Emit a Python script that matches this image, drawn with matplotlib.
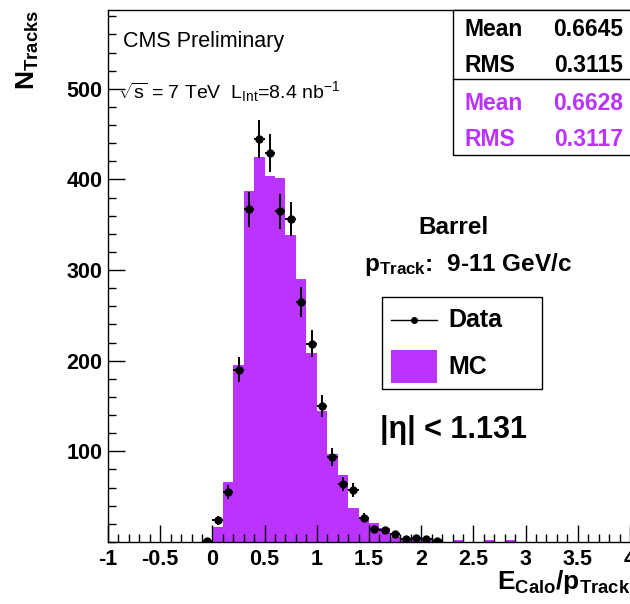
import matplotlib
matplotlib.use('Agg')
import matplotlib.pyplot as plt
import matplotlib.ticker as ticker
from matplotlib.patches import Rectangle
from matplotlib.lines import Line2D
import numpy as np

# MC histogram (bins of 0.1 from 0 to 2.9)
mc_edges = np.linspace(0.0, 2.9, 30)
mc_counts = [17, 66, 195, 387, 425, 404, 402, 339, 290, 208,
             145, 97, 74, 38, 28, 21, 15, 6, 4, 3,
             3, 3, 0, 2, 0, 0, 2, 0, 2]

# data points (bin centres and counts)
data_x = [-0.05, 0.05, 0.15, 0.25, 0.35, 0.45, 0.55, 0.65, 0.75, 0.85,
          0.95, 1.05, 1.15, 1.25, 1.35, 1.45, 1.55, 1.65, 1.75, 1.85,
          1.95, 2.05, 2.15]
data_counts = [1, 24, 55, 190, 367, 445, 429, 365, 356, 265,
               219, 150, 94, 64, 57, 27, 14, 13, 9, 3,
               4, 3, 1]

stat_labels = ['Mean', 'RMS', 'Mean', 'RMS']
stat_values = ['0.6645', '0.3115', '0.6628', '0.3117']

purple = '#bb33ff'
W, H = 630, 604

plt.rcParams['font.family'] = 'Liberation Sans'
plt.rcParams['mathtext.fontset'] = 'custom'
plt.rcParams['mathtext.rm'] = 'Liberation Sans'
plt.rcParams['mathtext.it'] = 'Liberation Sans:italic'
plt.rcParams['mathtext.bf'] = 'Liberation Sans:bold'


def fx(px):
    return px / W


def fy(py):
    return 1 - py / H


fig = plt.figure(figsize=(W / 100, H / 100), dpi=100)
ax = fig.add_axes([fx(108), fy(542), fx(630) - fx(108), fy(10) - fy(542)])

ax.stairs(mc_counts, mc_edges, fill=True, color=purple, zorder=1)
ax.errorbar(data_x, data_counts, xerr=0.05, yerr=np.sqrt(data_counts),
            fmt='o', color='black', ms=5, elinewidth=1.4, capsize=0, zorder=3)

ax.set_xlim(-1, 4)
ax.set_ylim(0, 587)
ax.spines['right'].set_visible(False)
for s in ax.spines.values():
    s.set_linewidth(1)

ax.xaxis.set_major_locator(ticker.MultipleLocator(0.5))
ax.xaxis.set_minor_locator(ticker.MultipleLocator(0.1))
ax.xaxis.set_major_formatter(ticker.FuncFormatter(lambda v, p: '%g' % v))
ax.set_yticks(range(100, 600, 100))
ax.yaxis.set_minor_locator(ticker.MultipleLocator(20))
ax.tick_params(which='both', direction='in', width=1, top=False, right=False)
ax.tick_params(which='major', length=12)
ax.tick_params(which='minor', length=5.5)
ax.tick_params(axis='x', pad=5)
ax.tick_params(axis='y', pad=4)
for lab in ax.get_xticklabels() + ax.get_yticklabels():
    lab.set_fontsize(15.5)
    lab.set_fontweight('bold')

# axis titles
fig.text(fx(28), fy(10), r'$\mathbf{N_{Tracks}}$', rotation=90,
         ha='center', va='top', fontsize=19)
fig.text(fx(630), fy(589), r'$\mathbf{E_{Calo}/p_{Track}}$',
         ha='right', va='baseline', fontsize=19)

# annotations
fig.text(fx(123), fy(42), 'CMS Preliminary', fontsize=15.5, va='center')
fig.text(fx(118), fy(92), r'$\sqrt{\mathrm{s}}$ = 7 TeV  L$_{\rm Int}$=8.4 nb$^{-1}$',
         fontsize=14, va='center')
fig.text(fx(453), fy(228), 'Barrel', fontsize=17.5, fontweight='bold',
         ha='center', va='center')
fig.text(fx(364), fy(264), r'$\mathbf{p_{Track}}$:  9-11 GeV/c', fontsize=17.5,
         fontweight='bold', va='center')
fig.text(fx(380), fy(430), '|η| < 1.131', fontsize=22, fontweight='bold',
         va='center')

# legend
fig.patches.append(Rectangle((fx(382), fy(389)), fx(542) - fx(382), fy(297) - fy(389),
                             transform=fig.transFigure, facecolor='white',
                             edgecolor='black', lw=1, zorder=5))
fig.lines.append(Line2D([fx(391), fx(437)], [fy(320), fy(320)], color='black', lw=1,
                        transform=fig.transFigure, zorder=6))
fig.lines.append(Line2D([fx(414)], [fy(320)], color='black', marker='o', ms=4,
                        transform=fig.transFigure, zorder=6))
fig.patches.append(Rectangle((fx(391), fy(383)), fx(437) - fx(391), fy(350) - fy(383),
                             transform=fig.transFigure, facecolor=purple,
                             edgecolor='none', zorder=6))
fig.text(fx(448), fy(320), 'Data', fontsize=18, fontweight='bold', va='center', zorder=7)
fig.text(fx(448), fy(367), 'MC', fontsize=18, fontweight='bold', va='center', zorder=7)

# stats box
fig.patches.append(Rectangle((fx(453), fy(155)), fx(700) - fx(453), fy(10) - fy(155),
                             transform=fig.transFigure, facecolor='white',
                             edgecolor='black', lw=1, zorder=5))
fig.lines.append(Line2D([fx(453), fx(700)], [fy(79), fy(79)], color='black', lw=1,
                        transform=fig.transFigure, zorder=6))
rows_y = [30, 65, 103, 140]
for i in range(4):
    c = 'black' if i < 2 else purple
    fig.text(fx(464), fy(rows_y[i]), stat_labels[i], fontsize=16.5, fontweight='bold',
             color=c, va='center', zorder=7)
    fig.text(fx(623), fy(rows_y[i]), stat_values[i], fontsize=16.5, fontweight='bold',
             color=c, va='center', ha='right', zorder=7)

fig.savefig('out.png', dpi=100)
